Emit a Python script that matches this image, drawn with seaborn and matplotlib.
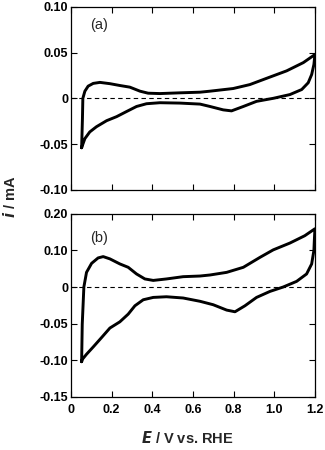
import numpy as np
import pandas as pd
import matplotlib
matplotlib.use("Agg")
import matplotlib.pyplot as plt
import seaborn as sns

sns.set_theme(style="ticks")
plt.rcParams['font.family'] = ['Liberation Sans', 'DejaVu Sans']

# Panel (a): anodic then cathodic sweep (E in V, i in mA)
a_E_fwd = [0.053, 0.057, 0.059, 0.069, 0.085, 0.110, 0.143, 0.192, 0.241, 0.290, 0.340, 0.380, 0.438, 0.536, 0.635,
           0.684, 0.798, 0.880, 0.963, 1.061, 1.143, 1.200]
a_i_fwd = [-0.054, -0.022, 0.0, 0.0078, 0.0133, 0.0163, 0.0174, 0.0160, 0.0140, 0.0122, 0.0078, 0.0056, 0.0052, 0.0060, 0.0067,
           0.0078, 0.0107, 0.0150, 0.0219, 0.0300, 0.0390, 0.0478]
a_E_rev = [1.200, 1.195, 1.184, 1.167, 1.135, 1.077, 0.995, 0.913, 0.848, 0.790, 0.749, 0.684, 0.635, 0.536, 0.438,
           0.372, 0.323, 0.274, 0.225, 0.176, 0.126, 0.093, 0.069, 0.056, 0.053]
a_i_rev = [0.0478, 0.037, 0.026, 0.017, 0.0096, 0.0041, 0.0, -0.0033, -0.0089, -0.0137, -0.0126, -0.0089, -0.0063, -0.0052, -0.0048,
           -0.0059, -0.0089, -0.0144, -0.0200, -0.0244, -0.0310, -0.0367, -0.0440, -0.0520, -0.0540]

# Panel (b): values in axis units (ticks carry the original labels)
b_E_fwd = [0.053, 0.056, 0.064, 0.077, 0.102, 0.134, 0.159, 0.192, 0.241, 0.282, 0.323, 0.364, 0.405, 0.470, 0.552, 0.635,
           0.684, 0.766, 0.848, 0.930, 0.995, 1.077, 1.150, 1.200]
b_i_fwd = [-0.102, -0.051, 0.0, 0.020, 0.0323, 0.0397, 0.0415, 0.0384, 0.0315, 0.0269, 0.0178, 0.0110, 0.0090, 0.0110, 0.0141, 0.0150,
           0.0164, 0.0200, 0.0269, 0.0405, 0.0507, 0.0600, 0.0700, 0.0795]
b_E_rev = [1.200, 1.197, 1.195, 1.184, 1.159, 1.110, 1.044, 0.979, 0.913, 0.856, 0.807, 0.766, 0.700, 0.635, 0.552, 0.470,
           0.405, 0.356, 0.315, 0.282, 0.241, 0.192, 0.151, 0.110, 0.077, 0.057, 0.053]
b_i_rev = [0.0795, 0.063, 0.050, 0.0315, 0.0178, 0.0077, 0.0, -0.0060, -0.0142, -0.0256, -0.0338, -0.0315, -0.0242, -0.0195, -0.0150, -0.0133,
           -0.0142, -0.0174, -0.0256, -0.0370, -0.0475, -0.0560, -0.0690, -0.0818, -0.0918, -0.0986, -0.102]

x_ticks = [0, 0.2, 0.4, 0.6, 0.8, 1.0, 1.2]
x_ticklabels = ["0", "0.2", "0.4", "0.6", "0.8", "1.0", "1.2"]
a_yticks = [-0.10, -0.05, 0, 0.05, 0.10]
a_yticklabels = ["-0.10", "-0.05", "0", "0.05", "0.10"]
b_yticks = [-0.15, -0.10, -0.05, 0, 0.05, 0.10]
b_yticklabels = ["-0.15", "-0.10", "-0.05", "0", "0.10", "0.20"]

fig = plt.figure(figsize=(3.25, 4.5), dpi=100)
ax_a = fig.add_axes([0.218, 0.578, 0.751, 0.407])
ax_b = fig.add_axes([0.218, 0.118, 0.751, 0.407])

def make_df(Ef, If, Er, Ir):
    E = list(Ef) + list(Er)
    I = list(If) + list(Ir)
    return pd.DataFrame({"E": E, "i": I})

tick_font = dict(fontsize=9, fontweight='bold')

for ax, df, yt, ytl, ylim, lab, ly in [
    (ax_a, make_df(a_E_fwd, a_i_fwd, a_E_rev, a_i_rev), a_yticks, a_yticklabels, (-0.10, 0.10), "(a)", 0.90),
    (ax_b, make_df(b_E_fwd, b_i_fwd, b_E_rev, b_i_rev), b_yticks, b_yticklabels, (-0.15, 0.10), "(b)", 0.87),
]:
    ax.axhline(0, color='black', lw=0.8, ls=(0, (4, 3)), zorder=1)
    sns.lineplot(data=df, x="E", y="i", sort=False, estimator=None, color='black', lw=2.1, ax=ax, zorder=2)
    ax.set_xlim(0, 1.2)
    ax.set_ylim(*ylim)
    ax.set_xticks(x_ticks)
    ax.set_yticks(yt)
    ax.set_yticklabels(ytl, **tick_font)
    ax.tick_params(direction='in', top=True, right=True, length=4, width=0.8, colors='black')
    ax.tick_params(axis='y', pad=2)
    ax.tick_params(axis='x', pad=5)
    for s in ax.spines.values():
        s.set_linewidth(0.9)
        s.set_color('black')
    ax.set_xlabel("")
    ax.set_ylabel("")
    ax.text(0.08, ly, lab, transform=ax.transAxes, fontsize=10.5, ha='left', va='center')

ax_a.set_xticklabels([])
ax_b.set_xticklabels(x_ticklabels, **tick_font)

fig.text(0.031, 0.562, r"$\bfit{i}$ / mA", rotation=90, ha='center', va='center', fontsize=10.5, fontweight='bold')
fig.text(0.575, 0.027, r"$\bfit{E}$ / V vs. RHE", ha='center', va='center', fontsize=10.5, fontweight='bold')

fig.savefig("out.png", dpi=100, facecolor='white')
